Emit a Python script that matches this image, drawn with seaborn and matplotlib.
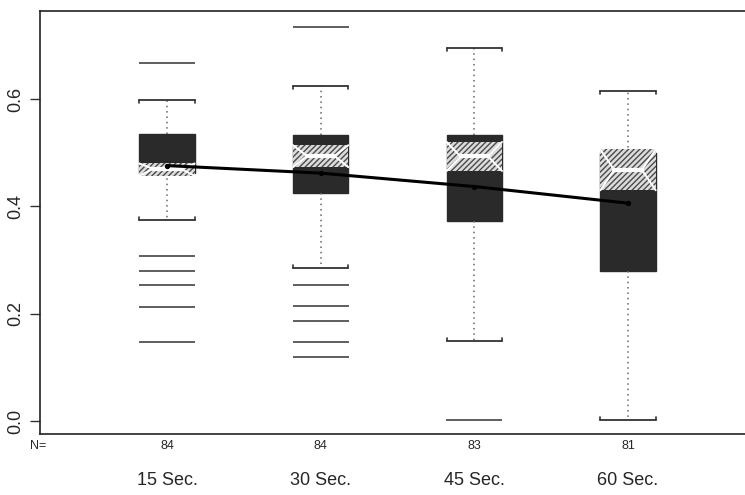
import matplotlib
matplotlib.use('Agg')
import matplotlib.pyplot as plt
from matplotlib.patches import Rectangle
import numpy as np
import seaborn as sns

# values
groups = ['15 Sec.', '30 Sec.', '45 Sec.', '60 Sec.']
counts = [84, 84, 83, 81]
q1 = [0.462, 0.425, 0.373, 0.279]
med = [0.470, 0.494, 0.493, 0.468]
q3 = [0.535, 0.533, 0.533, 0.500]
whislo = [0.375, 0.285, 0.149, 0.002]
whishi = [0.598, 0.624, 0.695, 0.615]
cilo = [0.457, 0.473, 0.466, 0.430]
cihi = [0.480, 0.514, 0.520, 0.506]
fliers = [
    [0.667, 0.307, 0.279, 0.253, 0.212, 0.147],
    [0.734, 0.253, 0.214, 0.186, 0.147, 0.119],
    [0.002],
    [],
]
means = [0.476, 0.462, 0.437, 0.406]

sns.set_style('ticks')
plt.rcParams['font.family'] = ['Liberation Sans', 'DejaVu Sans']

fig = plt.figure(figsize=(7.45, 4.95), dpi=100)
ax = fig.add_axes([0.0537, 0.1232, 0.9463, 0.8546])

pos = np.arange(1, len(groups) + 1)
w = 0.36

stats = []
for i in range(len(groups)):
    stats.append(dict(med=med[i], q1=q1[i], q3=q3[i], whislo=whislo[i], whishi=whishi[i],
                      fliers=fliers[i], cilo=cilo[i], cihi=cihi[i], label=groups[i]))

ax.bxp(stats, positions=pos, widths=w, capwidths=w, patch_artist=True,
       boxprops=dict(facecolor='#2a2a2a', edgecolor='#2a2a2a', lw=1),
       whiskerprops=dict(linestyle=(0, (1, 2.5)), color='#666', lw=1.1),
       capprops=dict(color='#333', lw=1.3),
       medianprops=dict(color='none'),
       flierprops=dict(marker='_', markersize=40, markeredgecolor='#333', markeredgewidth=1.1))

# bracket ends on the whisker caps
d = 0.006
for i, p in enumerate(pos):
    for xe in (p - w / 2, p + w / 2):
        ax.plot([xe, xe], [whishi[i], whishi[i] - d], color='#333', lw=1.2)
        ax.plot([xe, xe], [whislo[i], whislo[i] + d], color='#333', lw=1.2)

# notch band: hatched, with white notch outline and median
for i, p in enumerate(pos):
    ax.add_patch(Rectangle((p - w / 2, cilo[i]), w, cihi[i] - cilo[i], facecolor='#dcdcdc',
                           edgecolor='#4a4a4a', hatch='//////', lw=0, zorder=3))
    for s in (-1, 1):
        ax.plot([p + s * w / 2, p + s * w / 4, p + s * w / 2], [cihi[i], med[i], cilo[i]],
                color='white', lw=1.4, zorder=4)
    ax.plot([p - w / 4, p + w / 4], [med[i], med[i]], color='white', lw=3, zorder=4)

# line through the group means
sns.lineplot(x=pos, y=means, color='black', lw=2.2, marker='o', markersize=3,
             markeredgecolor='black', sort=False, ax=ax, zorder=5)

ax.set_xlim(0.174, 4.761)
ax.set_ylim(-0.024, 0.764)
ax.set_yticks([0.0, 0.2, 0.4, 0.6])
ax.set_yticklabels(['0.0', '0.2', '0.4', '0.6'], rotation=90, va='center', fontsize=13)
ax.tick_params(axis='y', length=7, width=1, pad=4, color='#333')
ax.set_xticks(pos)
ax.set_xticklabels(groups, fontsize=13)
ax.tick_params(axis='x', length=0, pad=27)

for i, p in enumerate(pos):
    ax.text(p, -0.047, str(counts[i]), ha='center', va='center', fontsize=9,
            transform=ax.transData, clip_on=False)
ax.text(0.109, -0.047, 'N=', ha='left', va='center', fontsize=9, transform=ax.transData,
        clip_on=False)

for side in ['left', 'bottom', 'top']:
    ax.spines[side].set_color('#222')
    ax.spines[side].set_linewidth(1.2)
ax.spines['right'].set_visible(False)

fig.savefig('out.png', dpi=100)
